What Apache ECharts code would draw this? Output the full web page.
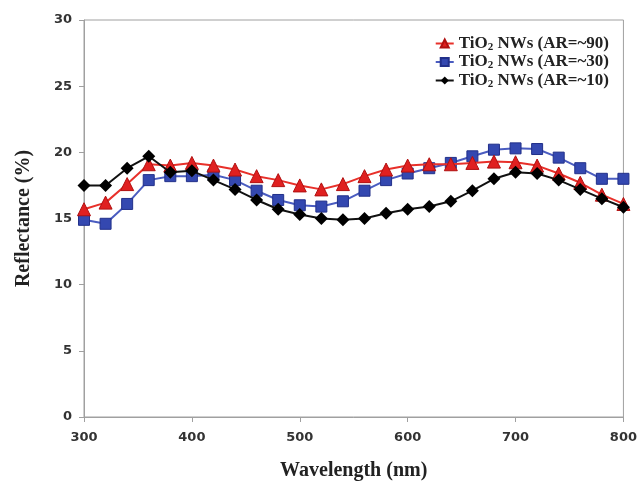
<!DOCTYPE html>
<html><head><meta charset="utf-8">
<script src="https://cdn.jsdelivr.net/npm/echarts@6/dist/echarts.min.js"></script>
<style>html,body{margin:0;padding:0;background:#fff}#c{width:640px;height:490px}</style>
</head><body><div id="c"></div>
<script>
var wavelengths = [300,320,340,360,380,400,420,440,460,480,500,520,540,560,580,600,620,640,660,680,700,720,740,760,780,800];
var ar90 = [15.7,16.2,17.6,19.1,19.0,19.2,19.0,18.7,18.2,17.9,17.5,17.2,17.6,18.2,18.7,19.0,19.1,19.1,19.2,19.3,19.25,19.0,18.4,17.7,16.8,16.1];
var ar30 = [14.9,14.6,16.1,17.9,18.2,18.2,18.3,17.9,17.1,16.4,16.0,15.9,16.3,17.1,17.9,18.4,18.8,19.2,19.7,20.2,20.3,20.25,19.6,18.8,18.0,18.0];
var ar10 = [17.5,17.5,18.8,19.7,18.5,18.6,17.9,17.2,16.4,15.7,15.3,15.0,14.9,15.0,15.4,15.7,15.9,16.3,17.1,18.0,18.5,18.4,17.9,17.2,16.5,15.85];
var seriesNames = ['TiO2 NWs (AR=~90)','TiO2 NWs (AR=~30)','TiO2 NWs (AR=~10)'];
var yTicks = [0,5,10,15,20,25,30];
var xTicks = [300,400,500,600,700,800];

function pairs(v){ return wavelengths.map(function(w,i){ return [w, v[i]]; }); }
var chart = echarts.init(document.getElementById('c'));
chart.setOption({
  animation:false,
  grid:{left:84, right:12, top:20, bottom:73, show:true, borderColor:'#a0a0a0', borderWidth:1},
  legend:{
    orient:'vertical', right:26, top:30, itemGap:1, itemWidth:18, itemHeight:10,
    data:seriesNames,
    formatter:function(n){ var m=n.match(/AR=~(\d+)/); return '{a|TiO}{s|2}{a| NWs (AR=~'+m[1]+')}'; },
    textStyle:{rich:{
      a:{fontFamily:'Liberation Serif', fontWeight:'bold', fontSize:17, color:'#222'},
      s:{fontFamily:'Liberation Serif', fontWeight:'bold', fontSize:11, color:'#222', verticalAlign:'bottom', padding:[7,0,0,0]}
    }}
  },
  xAxis:{
    type:'value', min:300, max:800, interval:100,
    name:'Wavelength (nm)', nameLocation:'middle', nameGap:44,
    nameTextStyle:{fontFamily:'Liberation Serif', fontWeight:'bold', fontSize:20, color:'#222'},
    axisLine:{show:true, lineStyle:{color:'#a0a0a0'}},
    axisTick:{show:true, length:5, lineStyle:{color:'#a0a0a0'}},
    axisLabel:{fontFamily:'DejaVu Sans', fontWeight:'bold', fontSize:13, color:'#333', margin:14,
      formatter:function(v){ return xTicks.indexOf(v)>=0 ? String(v) : ''; }},
    splitLine:{show:false}
  },
  yAxis:{
    type:'value', min:0, max:30, interval:5,
    name:'Reflectance (%)', nameLocation:'middle', nameGap:50,
    nameTextStyle:{fontFamily:'Liberation Serif', fontWeight:'bold', fontSize:20, color:'#222'},
    axisLine:{show:true, lineStyle:{color:'#a0a0a0'}},
    axisTick:{show:true, length:5, lineStyle:{color:'#a0a0a0'}},
    axisLabel:{fontFamily:'DejaVu Sans', fontWeight:'bold', fontSize:13, color:'#333', margin:12,
      formatter:function(v){ return yTicks.indexOf(v)>=0 ? String(v) : ''; }},
    splitLine:{show:false}
  },
  series:[
    {name:seriesNames[0], type:'line', data:pairs(ar90), symbol:'triangle', symbolSize:13,
     lineStyle:{color:'#e8302a', width:2}, itemStyle:{color:'#e02020', borderColor:'#b01010', borderWidth:1}, z:3},
    {name:seriesNames[1], type:'line', data:pairs(ar30), symbol:'rect', symbolSize:11,
     lineStyle:{color:'#4a5cc0', width:2}, itemStyle:{color:'#3448b0', borderColor:'#22308a', borderWidth:1}, z:2},
    {name:seriesNames[2], type:'line', data:pairs(ar10), symbol:'diamond', symbolSize:13,
     lineStyle:{color:'#111', width:2}, itemStyle:{color:'#000'}, z:4}
  ]
});
</script></body></html>
